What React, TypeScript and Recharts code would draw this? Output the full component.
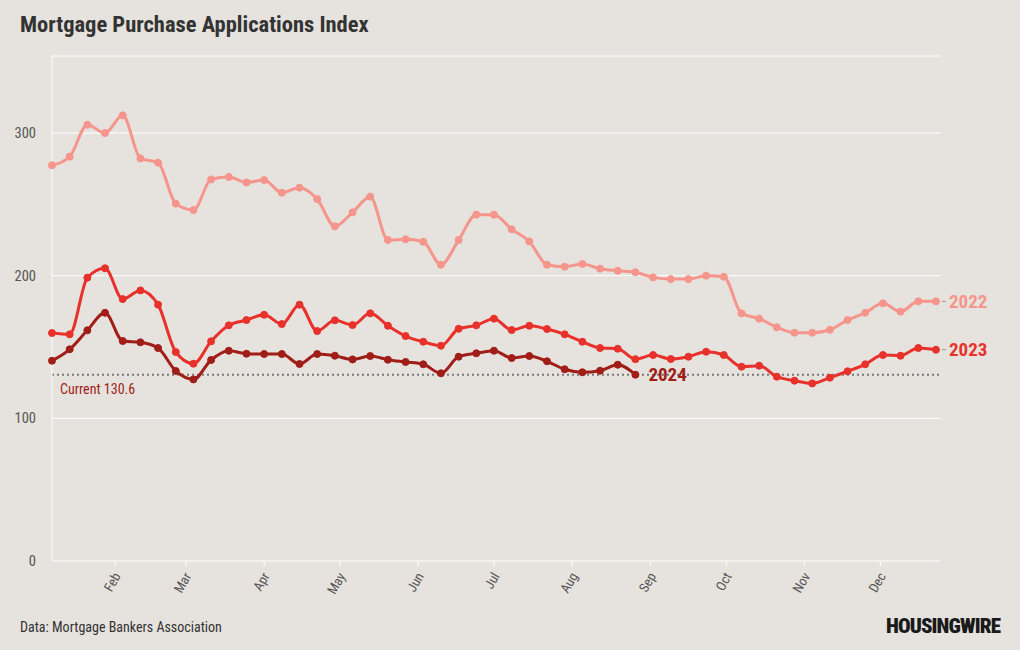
import React from "react"
import { LineChart, Line, XAxis, YAxis, CartesianGrid, ReferenceLine } from "recharts"

// week-ending day of year (first week = Jan 7)
const weekDays = [
  7, 14, 21, 28, 35, 42, 49, 56, 63, 70, 77, 84, 91, 98, 105, 112, 119,
  126, 133, 140, 147, 154, 161, 168, 175, 182, 189, 196, 203, 210, 217, 224,
  231, 238, 245, 252, 259, 266, 273, 280, 287, 294, 301, 308, 315, 322, 329,
  336, 343, 350, 357,
]

const values2022 = [
  277.4, 283.4, 305.8, 300, 312.4, 282.2, 279.2, 250.5, 246, 267.5, 269.2, 265.4, 267,
  258.2, 261.7, 253.7, 234.6, 244.4, 255.4, 225, 225.5, 223.8, 207.7, 225, 242.8, 242.8,
  232.5, 224, 207.7, 206.3, 208.2, 204.9, 203.5, 202.4, 198.8, 197.6, 197.6, 200, 199.3,
  173.6, 169.9, 163.8, 160, 160, 162.1, 168.9, 174, 180.6, 174.8, 182, 182,
]

const values2023 = [
  159.8, 158.9, 198.6, 205.2, 183.6, 189.7, 179.7, 146.5, 138.3, 154, 165.2, 168.9, 172.6,
  166.1, 179.7, 161.2, 168.7, 165.4, 173.6, 164.9, 157.7, 153.7, 150.9, 162.8, 165.2, 169.9,
  161.9, 164.9, 162.6, 158.9, 153.7, 149.3, 148.8, 141.5, 144.4, 141.6, 143.2, 146.7, 144.4,
  136.2, 136.9, 129.2, 126.4, 124.5, 128.5, 133, 137.9, 144.4, 143.9, 149.3, 148.1,
]

const values2024 = [
  140.4, 148.4, 161.7, 174, 154.2, 153.3, 149.3, 133.2, 127.3, 140.9, 147.4, 145.3, 145.1,
  145.1, 138.1, 145.1, 143.9, 141.3, 143.7, 141.1, 139.5, 137.9, 131.6, 143.2, 145.6, 147.4,
  142.3, 143.7, 140, 134.4, 132.3, 133.4, 137.6, 130.6,
]

const currentValue = 130.6

const monthTicks = [32, 60, 91, 121, 152, 182, 213, 244, 274, 305, 335]
const monthLabels = ["Feb", "Mar", "Apr", "May", "Jun", "Jul", "Aug", "Sep", "Oct", "Nov", "Dec"]
const yTicks = [0, 100, 200, 300]

const data = weekDays.map((day, i) => ({
  day,
  y2022: values2022[i],
  y2023: values2023[i],
  y2024: values2024[i],
}))

const FONT = "'Roboto Condensed', 'Liberation Sans Narrow', 'Arial Narrow', Roboto, sans-serif"
const BG = "#e6e2dd"
const C2022 = "#f5958c"
const C2023 = "#e8312b"
const C2024 = "#a11d18"

const MonthTick = (props: any) => {
  const { x, y, payload } = props
  const idx = monthTicks.indexOf(payload.value)
  return (
    <g transform={`translate(${x + 6},${y + 8})`}>
      <text
        transform="rotate(-60)"
        textAnchor="end"
        fill="#555"
        fontSize={13.5}
        fontFamily={FONT}
      >
        {monthLabels[idx]}
      </text>
    </g>
  )
}

const endLabel = (text: string, color: string, lastIndex: number, leader: boolean) => (props: any) => {
  const { x, y, index } = props
  if (index !== lastIndex) return null
  return (
    <g>
      {leader && <line x1={x + 6} x2={x + 10} y1={y} y2={y} stroke="#999" strokeWidth={1} />}
      <text
        x={x + 13}
        y={y}
        dy={6.5}
        fill={color}
        fontSize={19}
        fontWeight={700}
        fontFamily={FONT}
      >
        {text}
      </text>
    </g>
  )
}

export default function App() {
  return (
    <div
      style={{
        position: "fixed",
        top: 0,
        left: 0,
        width: 1020,
        height: 650,
        background: BG,
        fontFamily: FONT,
        overflow: "hidden",
      }}
    >
      <div
        style={{
          position: "absolute",
          left: 20,
          top: 11,
          fontSize: 22.5,
          fontWeight: 700,
          color: "#333",
        }}
      >
        Mortgage Purchase Applications Index
      </div>
      <LineChart
        width={1020}
        height={650}
        data={data}
        margin={{ top: 56, right: 79, bottom: 39, left: 0 }}
      >
        <CartesianGrid vertical={false} stroke="#ffffff" strokeWidth={1} />
        <XAxis
          dataKey="day"
          type="number"
          domain={[7, 359]}
          ticks={monthTicks}
          interval={0}
          tick={<MonthTick />}
          tickSize={5}
          tickLine={{ stroke: "#ffffff" }}
          axisLine={false}
          height={50}
        />
        <YAxis
          type="number"
          domain={[0, 354]}
          ticks={yTicks}
          width={52}
          tickLine={false}
          tickMargin={10}
          axisLine={{ stroke: "#ffffff" }}
          tick={{ fill: "#555", fontSize: 14.5, fontFamily: FONT }}
          allowDataOverflow
        />
        <ReferenceLine
          y={currentValue}
          stroke="#7a7a7a"
          strokeWidth={2}
          strokeDasharray="2 3"
          label={(p: any) => {
            const { viewBox } = p
            return (
              <text
                x={viewBox.x + 8}
                y={viewBox.y + 19}
                fill={C2024}
                fontSize={14}
                fontFamily={FONT}
              >
                Current {currentValue}
              </text>
            )
          }}
        />
        <Line
          type="monotone"
          dataKey="y2022"
          stroke={C2022}
          strokeWidth={3}
          dot={{ r: 3.5, fill: C2022, stroke: C2022, strokeWidth: 1 }}
          activeDot={false}
          isAnimationActive={false}
          label={endLabel("2022", C2022, values2022.length - 1, true)}
        />
        <Line
          type="monotone"
          dataKey="y2023"
          stroke={C2023}
          strokeWidth={3}
          dot={{ r: 3.5, fill: C2023, stroke: C2023, strokeWidth: 1 }}
          activeDot={false}
          isAnimationActive={false}
          label={endLabel("2023", C2023, values2023.length - 1, true)}
        />
        <Line
          type="monotone"
          dataKey="y2024"
          stroke={C2024}
          strokeWidth={3}
          dot={{ r: 3.5, fill: C2024, stroke: C2024, strokeWidth: 1 }}
          activeDot={false}
          isAnimationActive={false}
          label={endLabel("2024", C2024, values2024.length - 1, false)}
        />
      </LineChart>
      <div style={{ position: "absolute", left: 20, top: 619, fontSize: 14, color: "#333" }}>
        Data: Mortgage Bankers Association
      </div>
      <div
        style={{
          position: "absolute",
          right: 20,
          top: 614,
          fontSize: 21,
          fontWeight: 900,
          color: "#1a1a1a",
          letterSpacing: -0.9,
        }}
      >
        HOUSINGWIRE
      </div>
    </div>
  )
}
